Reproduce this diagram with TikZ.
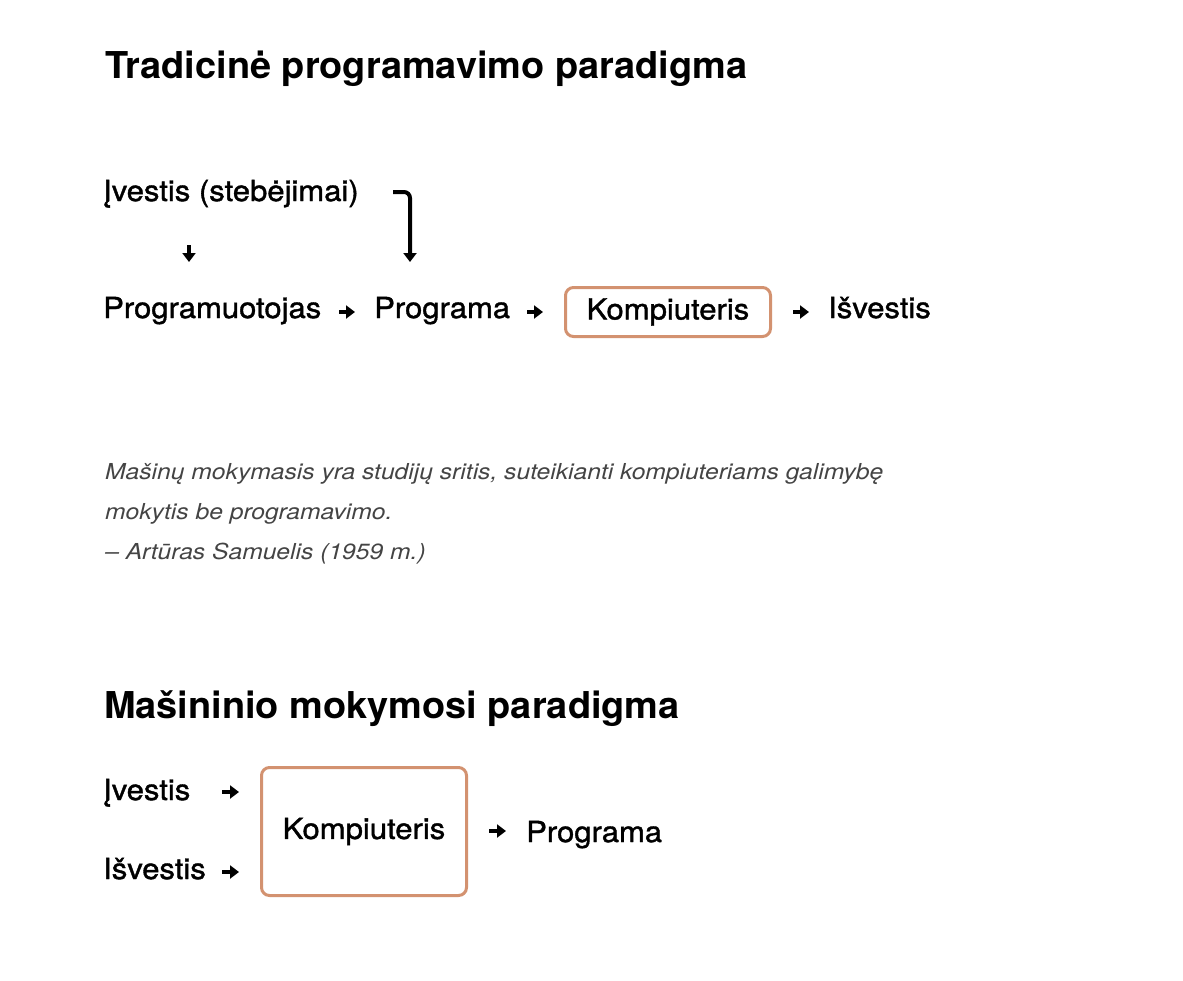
\documentclass[tikz,border=0pt]{standalone}
\usepackage{fontspec}
\setmainfont{TeX Gyre Heros}
\newfontfamily\titlefont{TeX Gyre Heros Bold}[FakeStretch=1.025]
\newfontfamily\lblfont{TeX Gyre Heros}[FakeStretch=1.07, FakeBold=1.3]
\newfontfamily\quotefont{TeX Gyre Heros Italic}[FakeStretch=1.12]
\usetikzlibrary{arrows.meta}
\definecolor{boxc}{RGB}{211,146,112}
\definecolor{quotec}{RGB}{68,68,68}
\tikzset{
  titletext/.style={anchor=base west, inner sep=0pt, font=\titlefont\fontsize{37}{44}\selectfont},
  lbl/.style={anchor=base west, inner sep=0pt, font=\lblfont\fontsize{29}{35}\selectfont},
  quotetext/.style={anchor=base west, inner sep=0pt, text=quotec, font=\quotefont\fontsize{22}{27}\selectfont},
  arr/.style={line width=4pt, -{Triangle[length=9pt,width=13pt]}},
  compbox/.style={draw=boxc, line width=3pt, rounded corners=8pt, inner sep=0pt, font=\lblfont\fontsize{29}{35}\selectfont}
}
\begin{document}
\begin{tikzpicture}[x=1pt,y=-1pt]
\useasboundingbox (0,0) rectangle (1183,980);
% Title 1
\node[titletext] (t1) at (105,78) {Tradicinė programavimo paradigma};
% Top section
\node[lbl] (ivs) at (103,201) {Įvestis (stebėjimai)};
\coordinate (d1s) at (189,245);
\coordinate (d1e) at (189,262);
\draw[arr] (d1s) -- (d1e);
\coordinate (b1s) at (393,192);
\coordinate (b1e) at (410,262);
\draw[arr, rounded corners=6pt] (b1s) -| (b1e);
\node[lbl] (prg) at (103,318) {Programuotojas};
\node[lbl] (prog) at (374,318) {Programa};
\node[compbox, minimum width=205pt, minimum height=49pt] (comp1) at (668,312) {Kompiuteris};
\node[lbl] (isv) at (828,318) {Išvestis};
\coordinate (a1s) at (339,312); \coordinate (a1e) at (355,312);
\coordinate (a2s) at (527,312); \coordinate (a2e) at (543,312);
\coordinate (a3s) at (793,312); \coordinate (a3e) at (809,312);
\draw[arr] (a1s) -- (a1e);
\draw[arr] (a2s) -- (a2e);
\draw[arr] (a3s) -- (a3e);
% Quote
\node[quotetext] (q1) at (105,479) {Mašinų mokymasis yra studijų sritis, suteikianti kompiuteriams galimybę};
\node[quotetext] (q2) at (105,519) {mokytis be programavimo.};
\node[quotetext] (q3) at (105,559) {– Artūras Samuelis (1959 m.)};
% Title 2
\node[titletext] (t2) at (104,718) {Mašininio mokymosi paradigma};
% Bottom section
\node[lbl] (ivs2) at (103,800) {Įvestis};
\node[lbl] (isv2) at (103,879) {Išvestis};
\node[compbox, minimum width=205pt, minimum height=128pt] (comp2) at (364,831.5) {Kompiuteris};
\node[lbl] (prog2) at (526,842) {Programa};
\coordinate (c1s) at (222,792); \coordinate (c1e) at (239,792);
\coordinate (c2s) at (222,872); \coordinate (c2e) at (239,872);
\coordinate (c3s) at (489,831); \coordinate (c3e) at (506,831);
\draw[arr] (c1s) -- (c1e);
\draw[arr] (c2s) -- (c2e);
\draw[arr] (c3s) -- (c3e);
\end{tikzpicture}
\end{document}
